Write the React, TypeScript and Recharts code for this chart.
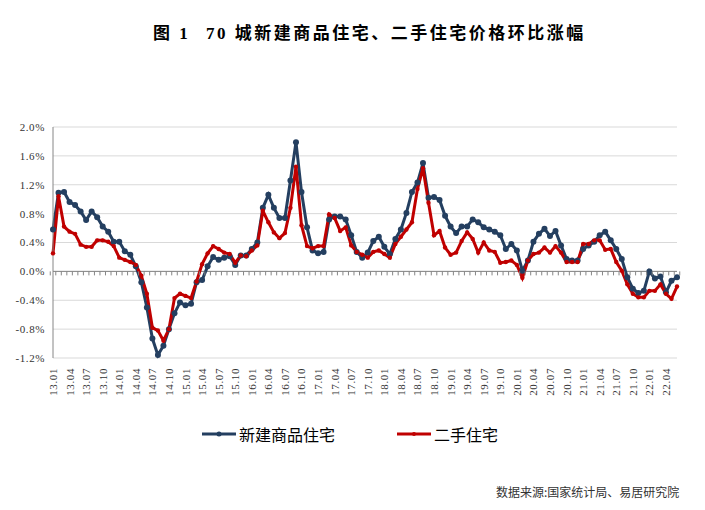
import React from 'react';
import { LineChart, Line, XAxis, YAxis, CartesianGrid, ReferenceLine } from 'recharts';

// 2013.01 - 2022.06, monthly
const years = ['13', '14', '15', '16', '17', '18', '19', '20', '21', '22'];
const monthNums = ['01', '02', '03', '04', '05', '06', '07', '08', '09', '10', '11', '12'];
const months = years.flatMap((y) => monthNums.map((m) => `${y}.${m}`)).slice(0, 114);

// 新建商品住宅 环比 (%)
const newHomes = [
  0.58, 1.09, 1.10, 0.96, 0.92, 0.83, 0.71, 0.83, 0.75, 0.62, 0.55, 0.41,
  0.41, 0.28, 0.23, 0.07, -0.15, -0.50, -0.93, -1.16, -1.03, -0.80, -0.58, -0.43,
  -0.47, -0.45, -0.15, -0.12, 0.07, 0.20, 0.16, 0.19, 0.21, 0.09, 0.22, 0.22,
  0.31, 0.40, 0.88, 1.06, 0.88, 0.74, 0.74, 1.26, 1.79, 1.10, 0.61, 0.29,
  0.25, 0.27, 0.72, 0.76, 0.76, 0.72, 0.50, 0.27, 0.19, 0.26, 0.42, 0.48,
  0.34, 0.24, 0.45, 0.58, 0.81, 1.10, 1.23, 1.50, 1.02, 1.03, 0.99, 0.77,
  0.62, 0.53, 0.62, 0.62, 0.72, 0.68, 0.61, 0.58, 0.55, 0.50, 0.31, 0.38,
  0.29, 0.01, 0.15, 0.41, 0.52, 0.59, 0.49, 0.56, 0.36, 0.17, 0.15, 0.15,
  0.31, 0.36, 0.41, 0.50, 0.55, 0.43, 0.31, 0.17, -0.08, -0.24, -0.30, -0.27,
  0.00, -0.10, -0.07, -0.29, -0.13, -0.08,
];

// 二手住宅 环比 (%)
const resale = [
  0.25, 1.04, 0.62, 0.55, 0.52, 0.37, 0.34, 0.34, 0.43, 0.43, 0.41, 0.35,
  0.19, 0.16, 0.13, 0.09, -0.06, -0.31, -0.78, -0.82, -0.96, -0.80, -0.37, -0.31,
  -0.34, -0.37, -0.14, 0.10, 0.25, 0.35, 0.31, 0.26, 0.24, 0.12, 0.22, 0.21,
  0.29, 0.36, 0.84, 0.68, 0.54, 0.46, 0.53, 0.88, 1.45, 0.64, 0.35, 0.32,
  0.35, 0.35, 0.79, 0.74, 0.56, 0.61, 0.36, 0.27, 0.23, 0.19, 0.27, 0.29,
  0.24, 0.19, 0.38, 0.48, 0.58, 0.68, 1.14, 1.43, 0.95, 0.50, 0.56, 0.33,
  0.23, 0.26, 0.42, 0.54, 0.45, 0.26, 0.40, 0.29, 0.27, 0.12, 0.13, 0.15,
  0.09, -0.09, 0.15, 0.24, 0.26, 0.33, 0.26, 0.35, 0.26, 0.13, 0.13, 0.13,
  0.38, 0.38, 0.43, 0.43, 0.30, 0.31, 0.13, 0.01, -0.18, -0.31, -0.36, -0.36,
  -0.27, -0.27, -0.18, -0.31, -0.38, -0.21,
];

const yTicks = [-1.2, -0.8, -0.4, 0, 0.4, 0.8, 1.2, 1.6, 2.0];

const data = months.map((m, i) => ({ month: m, newHomes: newHomes[i], resale: resale[i] }));

const BLUE = '#243F60';
const RED = '#C00000';
const SERIF = '"Liberation Serif", "Noto Sans CJK SC", serif';
const CJK = '"Noto Sans CJK SC", sans-serif';

// plot area geometry
const TOP = 127;
const LEFT = 53;
const RIGHT = 28;
const PLOT_H = 231;
const PLOT_W = 705 - LEFT - RIGHT;
const ZERO_Y = TOP + (2.0 / 3.2) * PLOT_H;

const MonthTick = (props: any) => {
  const { x, payload, index } = props;
  const band = PLOT_W / months.length;
  return (
    <g>
      <line x1={x - band / 2} x2={x - band / 2} y1={ZERO_Y} y2={ZERO_Y + 4} stroke="#868686" />
      {index === months.length - 1 && (
        <line x1={x + band / 2} x2={x + band / 2} y1={ZERO_Y} y2={ZERO_Y + 4} stroke="#868686" />
      )}
      {index % 3 === 0 && (
        <text
          transform={`translate(${x},${TOP + PLOT_H + 10}) rotate(-90)`}
          textAnchor="end"
          dominantBaseline="central"
          fontSize={11}
          fontFamily={SERIF}
          fill="#333"
          letterSpacing={0.6}
        >
          {payload.value}
        </text>
      )}
    </g>
  );
};

const LegendItem = ({ color, r, label, left }: { color: string; r: number; label: string; left: number }) => (
  <div style={{ position: 'absolute', left, top: 422, display: 'flex', alignItems: 'center' }}>
    <svg width={36} height={20}>
      <line x1={1} x2={35} y1={10} y2={10} stroke={color} strokeWidth={3} />
      <circle cx={18} cy={10} r={r} fill={color} />
    </svg>
    <span style={{ fontFamily: CJK, fontSize: 16, color: '#000', marginLeft: 2 }}>{label}</span>
  </div>
);

const titleStyle: React.CSSProperties = {
  position: 'absolute',
  top: 19,
  fontFamily: SERIF,
  fontWeight: 'bold',
  fontSize: 17,
  color: '#000',
  whiteSpace: 'pre',
  letterSpacing: 2.5,
};

export default function App() {
  return (
    <div style={{ position: 'absolute', left: 0, top: 0, width: 705, height: 510, background: '#fff' }}>
      <div style={{ ...titleStyle, left: 153 }}>图 1</div>
      <div style={{ ...titleStyle, left: 206 }}>70 城新建商品住宅、二手住宅价格环比涨幅</div>
      <LineChart
        width={705}
        height={510}
        data={data}
        margin={{ top: TOP, right: RIGHT, left: 8, bottom: 0 }}
      >
        <CartesianGrid vertical={false} stroke="#d9d9d9" />
        <XAxis
          dataKey="month"
          interval={0}
          height={510 - TOP - PLOT_H}
          axisLine={false}
          tickLine={false}
          tick={<MonthTick />}
        />
        <YAxis
          width={45}
          domain={[-1.2, 2.0]}
          ticks={yTicks}
          tickFormatter={(v: number) => `${v.toFixed(1)}%`}
          axisLine={{ stroke: '#868686' }}
          tickLine={false}
          tick={{ fontSize: 11, fontFamily: SERIF, fill: '#333', letterSpacing: 0.6 }}
        />
        <ReferenceLine y={0} stroke="#868686" />
        <Line
          type="linear"
          dataKey="newHomes"
          stroke={BLUE}
          strokeWidth={3}
          dot={{ r: 3, fill: BLUE, stroke: BLUE, strokeWidth: 0 }}
          isAnimationActive={false}
        />
        <Line
          type="linear"
          dataKey="resale"
          stroke={RED}
          strokeWidth={3}
          dot={{ r: 2.2, fill: RED, stroke: RED, strokeWidth: 0 }}
          isAnimationActive={false}
        />
      </LineChart>
      <LegendItem color={BLUE} r={2.5} label="新建商品住宅" left={201} />
      <LegendItem color={RED} r={2} label="二手住宅" left={396} />
      <div
        style={{
          position: 'absolute',
          left: 496,
          top: 483,
          fontFamily: CJK,
          fontSize: 12,
          color: '#333',
          whiteSpace: 'nowrap',
        }}
      >
        数据来源:国家统计局、易居研究院
      </div>
    </div>
  );
}
